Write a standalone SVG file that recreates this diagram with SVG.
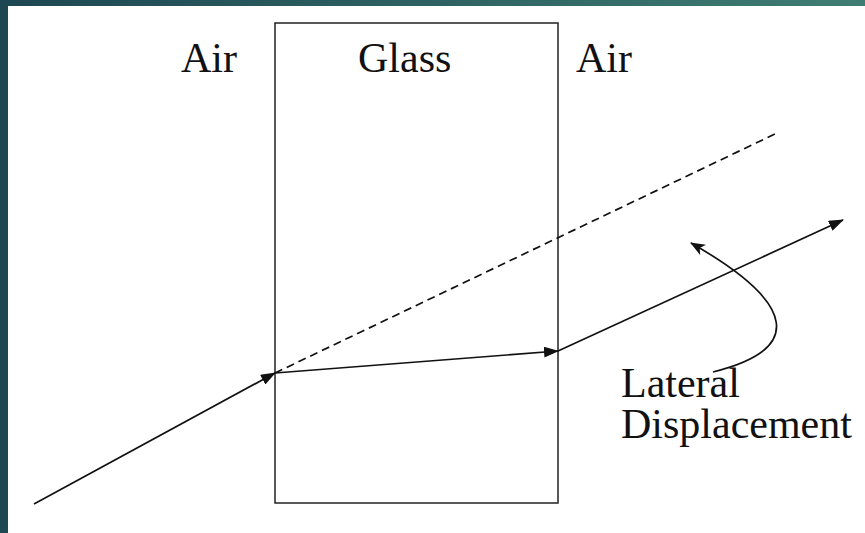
<svg xmlns="http://www.w3.org/2000/svg" width="865" height="533" viewBox="0 0 865 533">
<style>
.t{font-size:42px;fill:#111}
.ray{stroke:#111;stroke-width:1.7;fill:none}
</style>
<defs>
<linearGradient id="bg" x1="0" y1="0" x2="1" y2="0">
<stop offset="0" stop-color="#1d4752"/>
<stop offset="1" stop-color="#3f7d72"/>
</linearGradient>
<marker id="ah" viewBox="0 0 15 11" refX="14" refY="5.5" markerWidth="15" markerHeight="11" markerUnits="userSpaceOnUse" orient="auto">
<path d="M0,0 L15,5.5 L0,11 Z" fill="#111"/>
</marker>
<marker id="oh" viewBox="0 0 15 12" refX="14" refY="6" markerWidth="15" markerHeight="12" markerUnits="userSpaceOnUse" orient="auto">
<path d="M0,0 L15,6 L0,12 L4,6 Z" fill="#111"/>
</marker>
</defs>
<rect x="0" y="0" width="865" height="533" fill="url(#bg)"/>
<rect x="8" y="6" width="857" height="527" fill="#fff"/>
<g font-family="'Liberation Serif', 'Times New Roman', serif">
<g id="glass">
<rect x="275" y="23" width="283" height="480" fill="none" stroke="#222" stroke-width="1.5"/>
<text class="t" x="358" y="72">Glass</text>
</g>
<g id="air-left"><text class="t" x="181" y="72">Air</text></g>
<g id="air-right"><text class="t" x="576" y="72">Air</text></g>
<g id="label"><text class="t" x="621" y="397">Lateral<tspan x="621" y="438">Displacement</tspan></text></g>
</g>
<g id="connectors">
<line class="ray" x1="34" y1="504" x2="275" y2="373" marker-end="url(#ah)"/>
<line class="ray" x1="275" y1="373" x2="558" y2="351" marker-end="url(#ah)"/>
<line class="ray" x1="558" y1="351" x2="843" y2="220" marker-end="url(#ah)"/>
<line class="ray" x1="275" y1="373" x2="777" y2="133" stroke-dasharray="8,5"/>
<path class="ray" d="M713,372 C802,350 800,305 691,243" marker-end="url(#oh)"/>
</g>
</svg>
